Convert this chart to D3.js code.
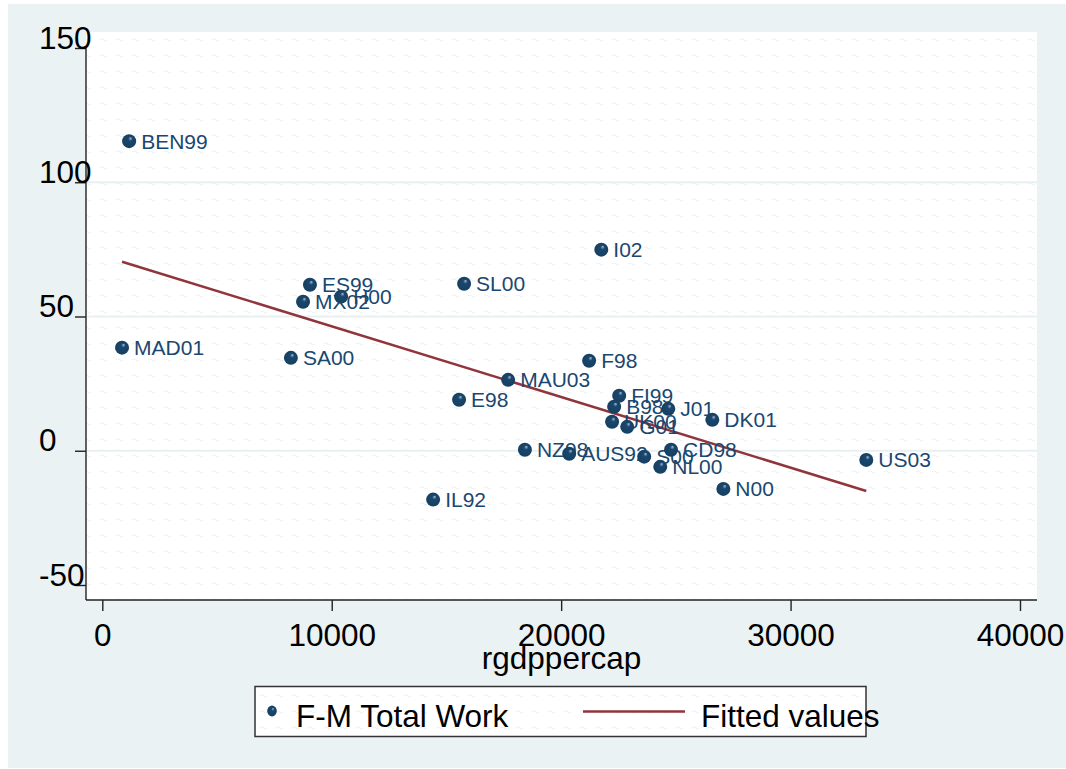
<!DOCTYPE html>
<html>
<head>
<meta charset="utf-8">
<script src="https://cdn.jsdelivr.net/npm/d3@7"></script>
<style>
  body { margin: 0; background: #fff; }
  text { font-family: "Liberation Sans", Arial, sans-serif; }
  .axis path, .axis line { stroke: #222; stroke-width: 1.4; }
</style>
</head>
<body>
<div id="chart"></div>
<script>
// country-year labels, real GDP per capita, F-M total work gap
var names = ['MAU03', 'E98', 'BEN99', 'MAD01', 'SA00', 'ES99', 'MX02', 'H00', 'SL00', 'I02',
    'F98', 'FI99', 'B98', 'J01', 'DK01', 'UK00', 'G01', 'NZ98', 'AUS92', 'S00',
    'CD98', 'NL00', 'N00', 'US03', 'IL92'];
var gdp = [17690, 15550, 1170, 860, 8220, 9050, 8750, 10410, 15770, 21750,
    21220, 22530, 22310, 24670, 26590, 22220, 22880, 18420, 20350, 23620,
    24790, 24320, 27070, 33300, 14420];
var work = [26.4, 19.0, 115.3, 38.4, 34.6, 61.8, 55.5, 57.4, 62.2, 74.9,
    33.5, 20.5, 16.4, 15.6, 11.5, 10.8, 8.9, 0.4, -1.1, -2.2,
    0.4, -6.0, -14.2, -3.4, -18.2];

// fitted values line, read at its two ends
var fitX = [860, 33300];
var fitY = [70.4, -15.0];

var xTicks = [0, 10000, 20000, 30000, 40000];
var yTicks = [-50, 0, 50, 100, 150];
var gridTicks = [0, 50, 100];

var W = 1066, H = 769;
var plot = {left: 86, right: 1037, top: 32, bottom: 600};

var svg = d3.select('#chart').append('svg')
    .attr('width', W)
    .attr('height', H);

var defs = svg.append('defs');

var pat = defs.append('pattern')
    .attr('id', 'tilde')
    .attr('patternUnits', 'userSpaceOnUse')
    .attr('width', 16)
    .attr('height', 16);
pat.append('path')
    .attr('d', 'M4,8 q2,-2 4,0 t3,0')
    .attr('fill', 'none')
    .attr('stroke', '#edf2f5')
    .attr('stroke-width', 1.1);

var grad = defs.append('radialGradient')
    .attr('id', 'dot')
    .attr('cx', '50%').attr('cy', '50%').attr('r', '50%')
    .attr('fx', '62%').attr('fy', '28%');
grad.append('stop').attr('offset', '0%').attr('stop-color', '#a9bdd0');
grad.append('stop').attr('offset', '30%').attr('stop-color', '#1a476f');
grad.append('stop').attr('offset', '100%').attr('stop-color', '#17405f');

// outer graph region
svg.append('rect')
    .attr('x', 8).attr('y', 4)
    .attr('width', W - 8).attr('height', H - 5)
    .attr('fill', '#eaf2f3');

svg.append('rect')
    .attr('x', plot.left).attr('y', plot.top)
    .attr('width', plot.right - plot.left).attr('height', plot.bottom - plot.top)
    .attr('fill', '#fff');
svg.append('rect')
    .attr('x', plot.left).attr('y', plot.top)
    .attr('width', plot.right - plot.left).attr('height', plot.bottom - plot.top)
    .attr('fill', 'url(#tilde)');

var x = d3.scaleLinear()
    .domain([0, 40000])
    .range([102.3, 1020]);

var y = d3.scaleLinear()
    .domain([-50, 150])
    .range([585, 48]);

svg.append('g')
    .selectAll('line')
    .data(gridTicks)
    .enter()
    .append('line')
    .attr('x1', plot.left + 1)
    .attr('x2', plot.right)
    .attr('y1', function(d) { return y(d) })
    .attr('y2', function(d) { return y(d) })
    .attr('stroke', '#e8f0f2')
    .attr('stroke-width', 2.2);

// x axis
var xAxis = svg.append('g')
    .attr('class', 'axis')
    .attr('transform', 'translate(0,' + plot.bottom + ')')
    .call(d3.axisBottom(x)
        .tickValues(xTicks)
        .tickSize(11)
        .tickSizeOuter(0)
        .tickFormat(function(d) { return d })
    );
xAxis.select('.domain').attr('d', 'M' + plot.left + ',0H' + plot.right);
xAxis.selectAll('.tick text')
    .attr('y', 46)
    .attr('dy', 0)
    .attr('fill', '#000')
    .style('font-size', '31.5px');

// y axis
var yAxis = svg.append('g')
    .attr('class', 'axis')
    .attr('transform', 'translate(' + plot.left + ',0)')
    .call(d3.axisLeft(y)
        .tickValues(yTicks)
        .tickSize(11)
        .tickSizeOuter(0)
        .tickFormat(function(d) { return d })
    );
yAxis.select('.domain').attr('d', 'M0,' + y(150) + 'V' + plot.bottom);
yAxis.selectAll('.tick text')
    .attr('x', -47)
    .attr('dy', 0)
    .attr('text-anchor', 'start')
    .attr('fill', '#000')
    .style('font-size', '31.5px');

svg.append('text')
    .attr('x', (plot.left + plot.right) / 2)
    .attr('y', 669)
    .attr('text-anchor', 'middle')
    .style('font-size', '31.5px')
    .text('rgdppercap');

// fitted line
var line = d3.line()
    .x(function(d) { return x(d[0]) })
    .y(function(d) { return y(d[1]) });

svg.append('path')
    .datum(d3.zip(fitX, fitY))
    .attr('d', line)
    .attr('fill', 'none')
    .attr('stroke', '#90353b')
    .attr('stroke-width', 2.5);

// points with labels
var pts = svg.append('g')
    .selectAll('g')
    .data(d3.range(names.length))
    .enter()
    .append('g')
    .attr('transform', function(i) { return 'translate(' + x(gdp[i]) + ',' + y(work[i]) + ')' });

pts.append('circle')
    .attr('r', 7)
    .attr('fill', 'url(#dot)');

pts.append('text')
    .attr('x', 12)
    .attr('y', 7.5)
    .attr('fill', '#1a476f')
    .style('font-size', '21px')
    .text(function(i) { return names[i] });

// legend
var leg = svg.append('g');
leg.append('rect')
    .attr('x', 255).attr('y', 686.5)
    .attr('width', 611).attr('height', 50)
    .attr('fill', '#fff')
    .attr('stroke', '#333')
    .attr('stroke-width', 1.5);
leg.append('rect')
    .attr('x', 256).attr('y', 687.5)
    .attr('width', 609).attr('height', 48)
    .attr('fill', 'url(#tilde)');
leg.append('ellipse')
    .attr('cx', 272).attr('cy', 711)
    .attr('rx', 4.8).attr('ry', 5.4)
    .attr('fill', 'url(#dot)');
leg.append('text')
    .attr('x', 296).attr('y', 727)
    .style('font-size', '31.5px')
    .text('F-M Total Work');
leg.append('line')
    .attr('x1', 583).attr('x2', 685)
    .attr('y1', 711.5).attr('y2', 711.5)
    .attr('stroke', '#90353b')
    .attr('stroke-width', 2.5);
leg.append('text')
    .attr('x', 701).attr('y', 727)
    .style('font-size', '31.5px')
    .text('Fitted values');
</script>
</body>
</html>
